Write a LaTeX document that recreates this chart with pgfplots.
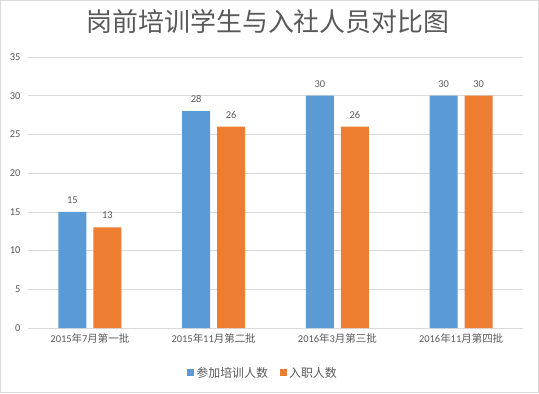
\documentclass[border=0pt]{standalone}
\usepackage{pgfplots}
\pgfplotsset{compat=1.18}
\usepackage{fontspec}
\setmainfont{Carlito}
\newfontfamily\cjk{Noto Sans CJK SC}
\definecolor{cblue}{HTML}{5B9BD5}
\definecolor{corange}{HTML}{ED7D31}
\definecolor{tgray}{HTML}{595959}
\definecolor{ggray}{HTML}{D9D9D9}
\begin{document}
\begin{tikzpicture}[x=1bp,y=1bp]
\path[use as bounding box] (0,0) rectangle (539,393);
\draw[ggray] (0.5,0.5) rectangle (538.5,392.5);
\node[text=tgray, font=\cjk\fontsize{26}{30}\selectfont] at (268,371) {岗前培训学生与入社人员对比图};
\begin{axis}[
  at={(28bp,65bp)}, anchor=south west,
  scale only axis, width=495bp, height=271bp,
  ybar=7bp, bar width=28bp,
  xmin=-0.5, xmax=3.5, ymin=0, ymax=35,
  ytick={0,5,...,35},
  xtick=data,
  xticklabels={2015{\cjk 年}7{\cjk 月第一批},2015{\cjk 年}11{\cjk 月第二批},2016{\cjk 年}3{\cjk 月第三批},2016{\cjk 年}11{\cjk 月第四批}},
  /pgf/number format/assume math mode=true,
  axis x line*=bottom,
  axis y line*=left,
  x axis line style={draw=ggray, line width=0.8pt, -},
  y axis line style={draw=none},
  ymajorgrids, grid style={ggray, line width=0.6pt},
  major tick length=0pt,
  yticklabel style={text=tgray, font=\fontsize{10.5}{12}\selectfont, xshift=-4bp},
  xticklabel style={text=tgray, font=\fontsize{10.5}{12}\selectfont, yshift=-2bp},
  nodes near coords,
  every node near coord/.append style={text=tgray, font=\fontsize{10.5}{12}\selectfont, yshift=5bp},
  legend style={at={(0.475,-0.166)}, anchor=center, draw=none, fill=none, legend columns=2,
    font=\cjk\fontsize{12}{14}\selectfont, text=tgray,
    /tikz/every even column/.append style={column sep=10bp}},
  legend image code/.code={\fill[#1] (0bp,-3.5bp) rectangle (7bp,3.5bp);},
]
\addplot[fill=cblue, draw=none] coordinates {(0,15) (1,28) (2,30) (3,30)};
\addplot[fill=corange, draw=none] coordinates {(0,13) (1,26) (2,26) (3,30)};
\legend{参加培训人数,入职人数}
\end{axis}
\end{tikzpicture}
\end{document}
